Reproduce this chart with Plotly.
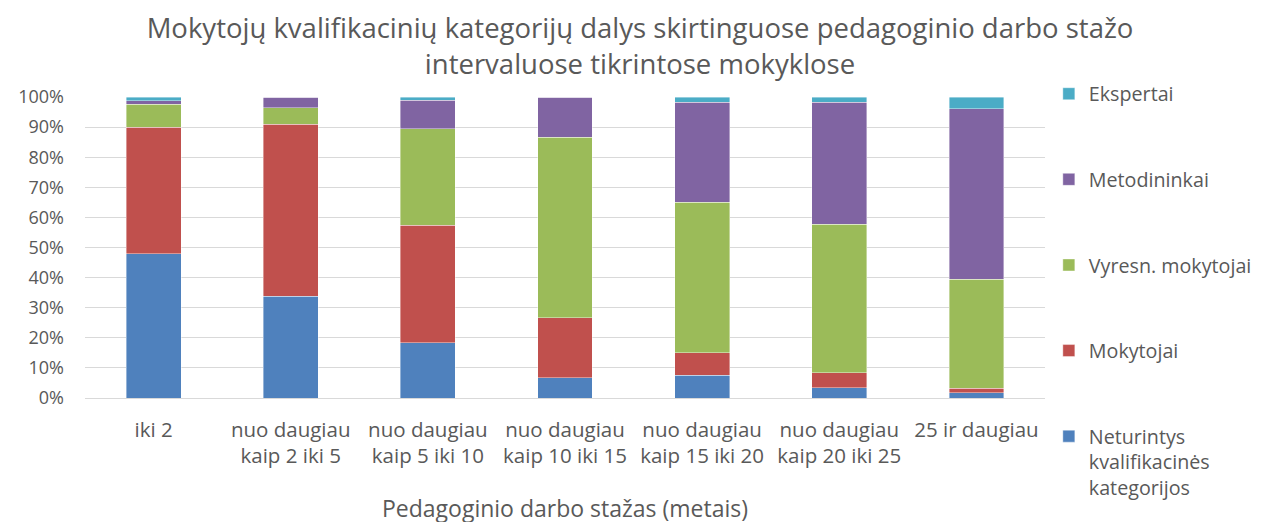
import plotly.graph_objects as go

categories = ["iki 2", "nuo daugiau<br>kaip 2 iki 5", "nuo daugiau<br>kaip 5 iki 10",
              "nuo daugiau<br>kaip 10 iki 15", "nuo daugiau<br>kaip 15 iki 20",
              "nuo daugiau<br>kaip 20 iki 25", "25 ir daugiau"]

neturintys = [0.480, 0.338, 0.184, 0.068, 0.075, 0.034, 0.018]
mokytojai = [0.420, 0.571, 0.390, 0.198, 0.075, 0.050, 0.015]
vyresn = [0.076, 0.056, 0.321, 0.601, 0.500, 0.493, 0.361]
metodininkai = [0.011, 0.035, 0.095, 0.133, 0.333, 0.406, 0.567]
ekspertai = [0.013, 0.000, 0.010, 0.000, 0.017, 0.017, 0.039]

series = [
    ("Neturintys<br>kvalifikacinės<br>kategorijos", neturintys, "#4F81BD"),
    ("Mokytojai", mokytojai, "#C0504D"),
    ("Vyresn. mokytojai", vyresn, "#9BBB59"),
    ("Metodininkai", metodininkai, "#8064A2"),
    ("Ekspertai", ekspertai, "#4BACC6"),
]

FONT = "Open Sans"
GRAY = "#595959"

fig = go.Figure()
for i, (name, vals, color) in enumerate(series):
    fig.add_trace(go.Bar(
        x=categories, y=vals, name=name, legendgroup=name,
        legendrank=100 - i,
        marker=dict(color=color, line=dict(color="rgba(255,255,255,0.5)", width=0.8)),
    ))

fig.update_layout(
    barmode="stack",
    bargap=0.6,
    width=1264, height=522,
    margin=dict(l=77, r=227, t=89, b=132, autoexpand=False),
    paper_bgcolor="white", plot_bgcolor="white",
    font=dict(family=FONT, color=GRAY, size=18),
    title=dict(
        text="Mokytojų kvalifikacinių kategorijų dalys skirtinguose pedagoginio darbo stažo<br>intervaluose tikrintose mokyklose",
        x=0.5, xanchor="center", y=0.942, yanchor="middle",
        font=dict(family=FONT, size=27.5, color=GRAY),
    ),
    xaxis=dict(
        title=dict(text="Pedagoginio darbo stažas (metais)", font=dict(size=23, color=GRAY), standoff=32),
        tickfont=dict(size=20.5, color=GRAY),
        showline=True, linecolor="#d9d9d9", linewidth=1,
        ticks="", showgrid=False, automargin=False, ticklabelstandoff=13,
    ),
    yaxis=dict(
        range=[0, 1], tickformat=".0%", dtick=0.1,
        tickfont=dict(size=18, color=GRAY),
        showgrid=True, gridcolor="#d9d9d9", gridwidth=1,
        zeroline=False, showline=False, ticks="", automargin=False,
        ticklabelstandoff=20,
    ),
    legend=dict(
        x=1.004, xanchor="left", y=1.075, yanchor="top",
        traceorder="grouped", tracegroupgap=57,
        valign="top",
        font=dict(size=19.7, color=GRAY),
        itemwidth=30, maxheight=480,
    ),
)

fig.write_html("out.html")
